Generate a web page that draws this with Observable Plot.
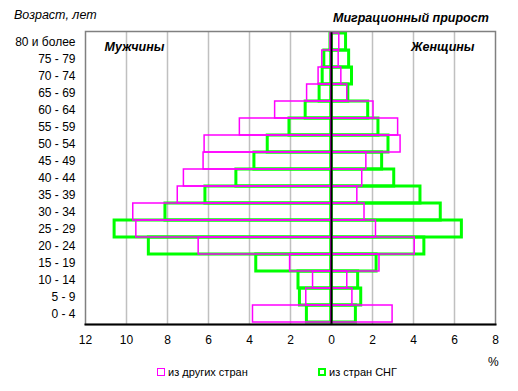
<!DOCTYPE html>
<html>
<head>
<meta charset="utf-8">
<script src="https://cdn.jsdelivr.net/npm/d3@7"></script>
<script src="https://cdn.jsdelivr.net/npm/@observablehq/plot@0.6"></script>
<style>
  body { margin: 0; background: #fff; }
  #wrap { position: relative; width: 518px; height: 391px; font-family: "Liberation Sans", Arial, sans-serif; color: #000; }
  .lbl { position: absolute; white-space: nowrap; line-height: 1; }
  .sw { display: inline-block; width: 6px; height: 6px; vertical-align: middle; margin-right: 3px; position: relative; top: -1px; }
</style>
</head>
<body>
<div id="wrap"></div>
<script>
// Age groups (top to bottom)
const ages = ["80 и более","75 - 79","70 - 74","65 - 69","60 - 64","55 - 59","50 - 54","45 - 49","40 - 44","35 - 39","30 - 34","25 - 29","20 - 24","15 - 19","10 - 14","5 - 9","0 - 4"];
// Percent values, "из других стран"
const otherMen   = [0.05, 0.45, 0.63, 1.19, 2.75, 4.47, 6.19, 6.24, 7.20, 7.50, 9.67, 9.52, 6.48, 2.02, 0.90, 1.23, 3.83];
const otherWomen = [0.38, 0.35, 0.48, 0.77, 2.05, 3.25, 3.37, 1.70, 1.50, 1.26, 1.61, 2.17, 4.06, 2.34, 0.77, 1.02, 2.98];
// Percent values, "из стран СНГ"
const cisMen     = [0.05, 0.35, 0.43, 0.58, 1.26, 2.05, 3.11, 3.76, 4.64, 6.15, 8.10, 10.58, 8.91, 3.67, 1.61, 1.54, 1.20];
const cisWomen   = [0.71, 0.86, 1.00, 0.82, 1.79, 2.29, 2.78, 2.47, 3.06, 4.34, 5.33, 6.36, 4.53, 2.20, 1.30, 1.45, 1.19];
const xTicks = [-12, -10, -8, -6, -4, -2, 0, 2, 4, 6, 8];
const seriesNames = ["из других стран", "из стран СНГ"];
const colors = ["#ff00ff", "#00ff00"];

const rows = (men, women) => ages.flatMap((a, i) => [
  {age: a, x1: -men[i], x2: 0},
  {age: a, x1: 0, x2: women[i]}
]);
const otherRows = rows(otherMen, otherWomen);
const cisRows = rows(cisMen, cisWomen);

const chart = Plot.plot({
  width: 518,
  height: 391,
  marginLeft: 85,
  marginRight: 23,
  marginTop: 31,
  marginBottom: 67,
  style: {fontFamily: "'Liberation Sans', Arial, sans-serif", fontSize: "12px", color: "#000", background: "#fff"},
  x: {domain: [-12, 8], ticks: xTicks, tickFormat: d => Math.abs(d), label: null},
  y: {domain: ages, padding: 0, label: null},
  marks: [
    Plot.gridX(xTicks.filter(t => t > -12 && t < 8), {stroke: "#c0c0c0", strokeOpacity: 1, strokeWidth: 1.5}),
    Plot.barX(cisRows, {x1: "x1", x2: "x2", y: "age", fill: "none", stroke: colors[1], strokeWidth: 3, inset: 0}),
    Plot.barX(otherRows, {x1: "x1", x2: "x2", y: "age", fill: "none", stroke: colors[0], strokeWidth: 1.5, inset: 0}),
    Plot.ruleX([0], {stroke: "#000", strokeWidth: 2}),
    Plot.frame({stroke: "#808080", strokeWidth: 1.5}),
    Plot.frame({anchor: "bottom", stroke: "#000", strokeWidth: 2}),
    Plot.axisX({ticks: xTicks, tickFormat: d => Math.abs(d), tickSize: 0, tickPadding: 11, fontSize: 12, label: null}),
    Plot.axisY({tickSize: 0, tickPadding: 10, fontSize: 12, label: null}),
    Plot.text(["Мужчины"], {frameAnchor: "top-left", dx: 19, dy: 15, fontWeight: "bold", fontStyle: "italic", fontSize: 12.5, textAnchor: "start", lineAnchor: "middle"}),
    Plot.text(["Женщины"], {frameAnchor: "top-right", dx: -21, dy: 15, fontWeight: "bold", fontStyle: "italic", fontSize: 12.5, textAnchor: "end", lineAnchor: "middle"})
  ]
});

const wrap = document.getElementById("wrap");
wrap.appendChild(chart);

function addLabel(html, left, top, style) {
  const d = document.createElement("div");
  d.className = "lbl";
  d.innerHTML = html;
  d.style.left = left + "px";
  d.style.top = top + "px";
  Object.assign(d.style, style || {});
  wrap.appendChild(d);
  return d;
}
addLabel("Возраст, лет", 14, 9, {fontStyle: "italic", fontSize: "12.5px"});
addLabel("Миграционный прирост", 333, 12, {fontStyle: "italic", fontWeight: "bold", fontSize: "12.5px"});
addLabel("%", 488, 356, {fontSize: "12px"});
addLabel(`<span class="sw" style="border:1.5px solid ${colors[0]}"></span>${seriesNames[0]}`, 157, 367, {fontSize: "11px"});
addLabel(`<span class="sw" style="border:2.5px solid ${colors[1]};width:4px;height:4px"></span>${seriesNames[1]}`, 318, 367, {fontSize: "11px"});
</script>
</body>
</html>
